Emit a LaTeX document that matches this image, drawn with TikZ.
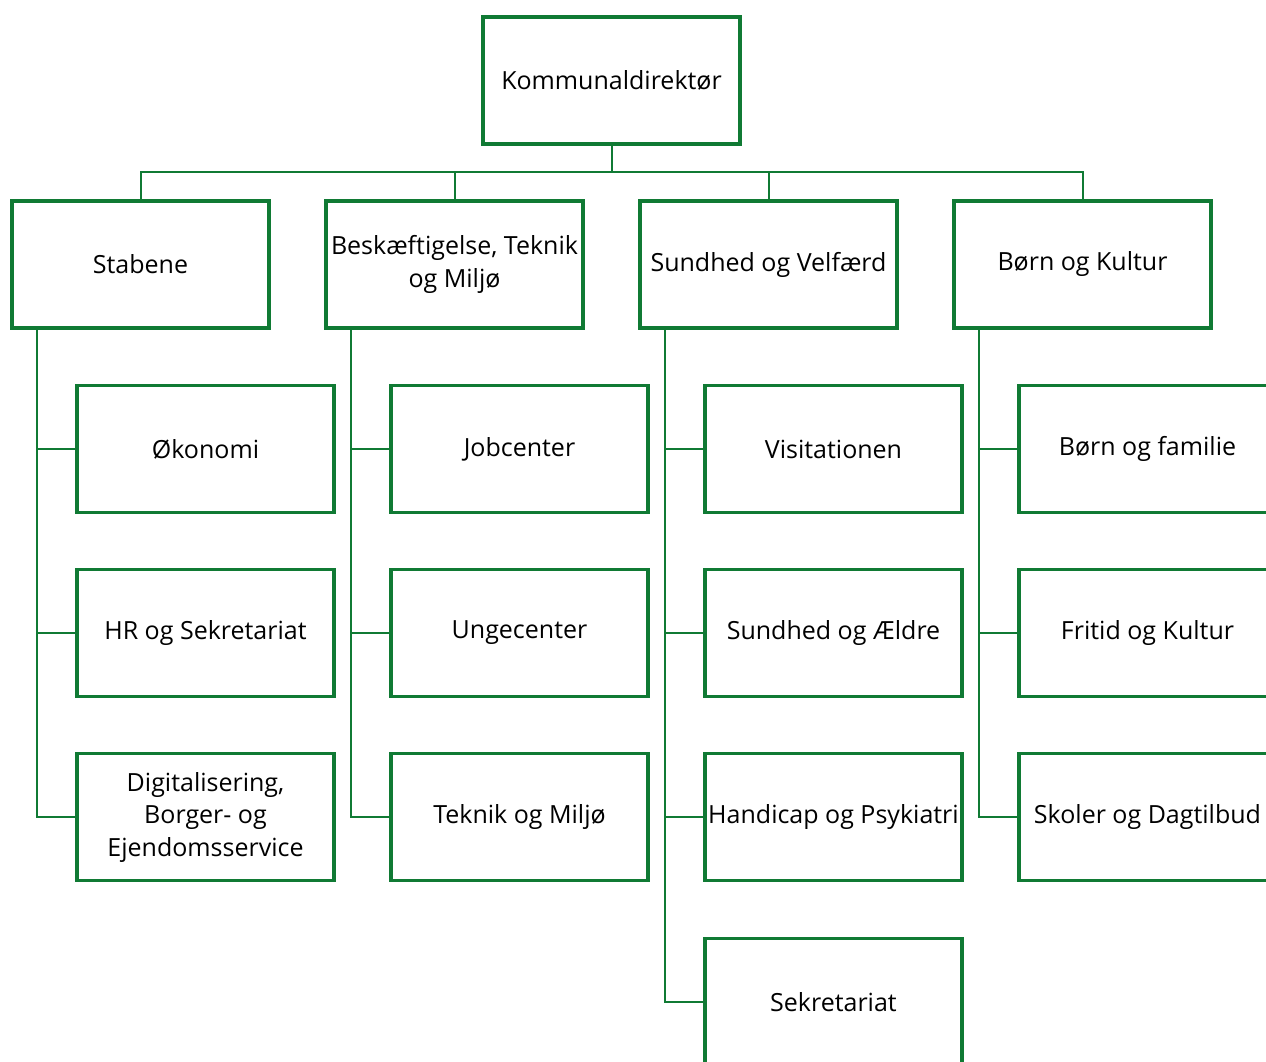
\documentclass[tikz,border=0pt]{standalone}
\usepackage{fontspec}
\setmainfont{Open Sans}
\definecolor{kgreen}{RGB}{16,122,52}
\begin{document}
\begin{tikzpicture}[x=1pt,y=-1pt,
  box/.style={draw=kgreen,line width=3.3pt,minimum width=257pt,minimum height=127pt,inner sep=0pt,align=center,font=\fontsize{25}{32.5}\selectfont,text=black},
  conn/.style={draw=kgreen,line width=2pt}]
\useasboundingbox (0,0) rectangle (1266,1062);
\clip (0,0) rectangle (1266,1062);
\fill[white] (0,0) rectangle (1266,1062);
% top
\node[box] (top) at (611.5,80.5) {\raisebox{-2pt}{Kommunaldirektør}};
% level 2
\node[box] (s) at (140.5,264.5) {\raisebox{-2pt}{Stabene}};
\node[box] (b) at (454.5,264.5) {\raisebox{-2pt}{Beskæftigelse, Teknik}\\\raisebox{-2pt}{og Miljø}};
\node[box] (v) at (768.5,264.5) {\raisebox{-2pt}{Sundhed og Velfærd}};
\node[box] (k) at (1082.5,264.5) {\raisebox{-2pt}{Børn og Kultur}};
% level 3
\node[box] (s1) at (205.5,449) {Økonomi};
\node[box] (s2) at (205.5,633) {HR og Sekretariat};
\node[box] (s3) at (205.5,817) {Digitalisering,\\Borger- og\\Ejendomsservice};
\node[box] (b1) at (519.5,449) {Jobcenter};
\node[box] (b2) at (519.5,633) {Ungecenter};
\node[box] (b3) at (519.5,817) {Teknik og Miljø};
\node[box] (v1) at (833.5,449) {Visitationen};
\node[box] (v2) at (833.5,633) {Sundhed og Ældre};
\node[box] (v3) at (833.5,817) {Handicap og Psykiatri};
\node[box] (v4) at (833.5,1002) {Sekretariat};
\node[box] (k1) at (1147.5,449) {Børn og familie};
\node[box] (k2) at (1147.5,633) {Fritid og Kultur};
\node[box] (k3) at (1147.5,817) {Skoler og Dagtilbud};
% connectors top
\coordinate (bar) at (611.5,172);
\draw[conn] (top.south) -- (bar);
\draw[conn] (s.north) |- (bar) -| (k.north);
\draw[conn] (b.north) -- (b.north |- bar);
\draw[conn] (v.north) -- (v.north |- bar);
% level 3 connectors
\foreach \p/\x/\last in {s/37/3,b/351/3,v/665/4,k/979/3}{
  \draw[conn] (\x,330) |- (\p\last.west);
  \foreach \i in {1,...,\last}{\draw[conn] (\x,0 |- \p\i.west) -- (\p\i.west);}
}
\end{tikzpicture}
\end{document}
